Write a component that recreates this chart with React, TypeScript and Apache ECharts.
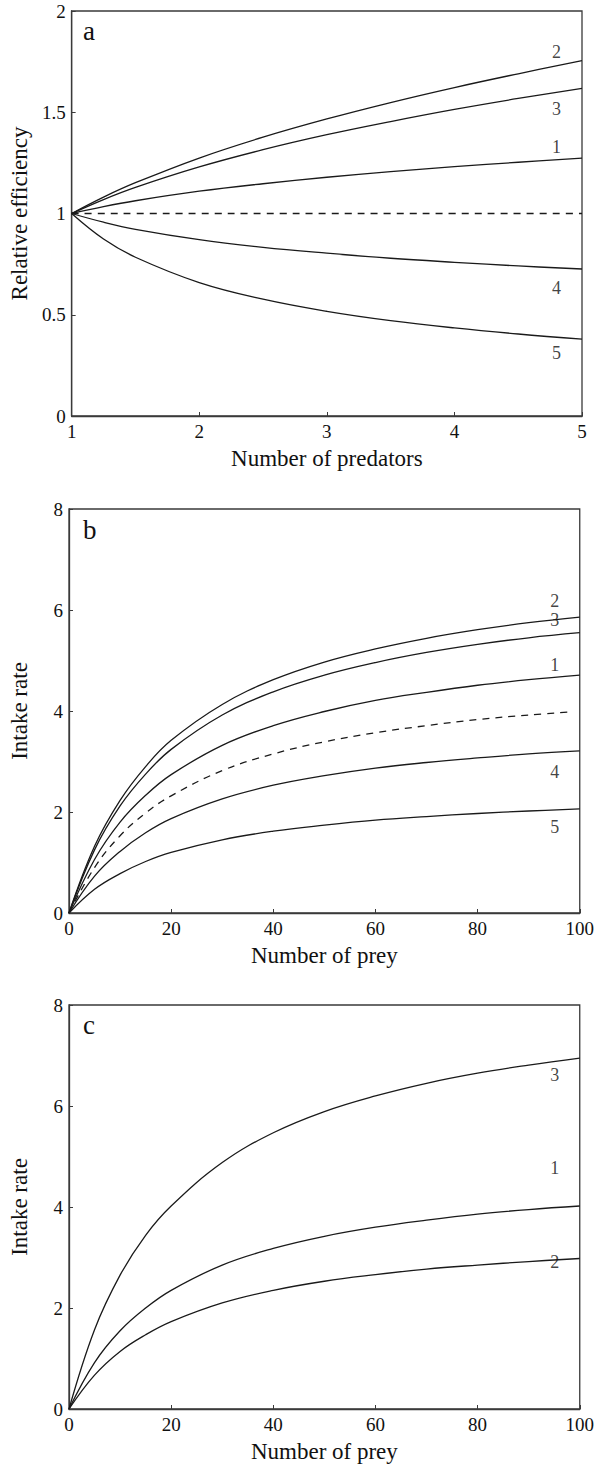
import React, { useEffect, useRef } from "react";
import * as echarts from "echarts";

// Panel a: relative efficiency vs number of predators
const predators = [1, 1.25, 1.5, 2, 2.5, 3, 3.5, 4, 4.5, 5];
const effCurve2 = [1, 1.081, 1.152, 1.274, 1.377, 1.467, 1.548, 1.622, 1.69, 1.755];
const effCurve3 = [1, 1.069, 1.129, 1.23, 1.315, 1.389, 1.454, 1.514, 1.568, 1.618];
const effCurve1 = [1, 1.034, 1.063, 1.11, 1.147, 1.179, 1.207, 1.231, 1.253, 1.273];
const effBaseline = [1, 1, 1, 1, 1, 1, 1, 1, 1, 1];
const effCurve4 = [1, 0.957, 0.922, 0.871, 0.833, 0.804, 0.779, 0.759, 0.741, 0.726];
const effCurve5 = [1, 0.874, 0.784, 0.659, 0.577, 0.517, 0.471, 0.435, 0.405, 0.38];

// Panel b: intake rate vs number of prey
const prey = [0, 5, 10, 15, 20, 30, 40, 50, 60, 70, 80, 90, 100];
const preyDashed = [0, 5, 10, 15, 20, 30, 40, 50, 60, 70, 80, 90, 98];
const intakeB2 = [0, 1.32, 2.23, 2.9, 3.42, 4.13, 4.62, 4.97, 5.23, 5.44, 5.61, 5.75, 5.86];
const intakeB3 = [0, 1.25, 2.12, 2.75, 3.24, 3.92, 4.38, 4.71, 4.96, 5.16, 5.32, 5.45, 5.55];
const intakeB1 = [0, 1.06, 1.8, 2.33, 2.74, 3.32, 3.71, 3.99, 4.21, 4.37, 4.51, 4.62, 4.71];
const intakeBDashed = [0, 0.9, 1.53, 1.98, 2.32, 2.82, 3.15, 3.39, 3.57, 3.71, 3.83, 3.92, 3.98];
const intakeB4 = [0, 0.73, 1.22, 1.59, 1.87, 2.26, 2.53, 2.72, 2.87, 2.98, 3.07, 3.15, 3.21];
const intakeB5 = [0, 0.47, 0.78, 1.02, 1.2, 1.45, 1.62, 1.74, 1.84, 1.91, 1.97, 2.02, 2.06];

// Panel c: intake rate vs number of prey
const intakeC3 = [0, 1.57, 2.65, 3.44, 4.02, 4.88, 5.47, 5.89, 6.2, 6.45, 6.65, 6.81, 6.95];
const intakeC1 = [0, 0.92, 1.55, 2.0, 2.35, 2.85, 3.18, 3.42, 3.6, 3.74, 3.86, 3.95, 4.02];
const intakeC2 = [0, 0.67, 1.14, 1.47, 1.73, 2.1, 2.35, 2.53, 2.66, 2.77, 2.85, 2.92, 2.98];

// Curve number labels
const labelsA = ["2", "3", "1", "4", "5"];
const labelsB = ["2", "3", "1", "4", "5"];
const labelsC = ["3", "1", "2"];

// Label anchor positions in data units (annotation placement)
const labelPosA = [[4.8, 1.8], [4.8, 1.516], [4.8, 1.328], [4.8, 0.632], [4.8, 0.311]];
const labelPosB = [[95.1, 6.18], [95.1, 5.8], [95.1, 4.91], [95.1, 2.79], [95.1, 1.7]];
const labelPosC = [[95.1, 6.61], [95.1, 4.77], [95.1, 2.91]];

const FONT = "'Liberation Serif', 'Times New Roman', serif";
const LINE = "#1a1a1a";
const AXIS = "#3a3a3a";

const zip = (xs: number[], ys: number[]) => xs.map((x, i) => [x, ys[i]]);

export default function App() {
  const ref = useRef<HTMLDivElement>(null);
  useEffect(() => {
    document.body.style.margin = "0";
    if (!ref.current) return;
    const chart = echarts.init(ref.current, null, { renderer: "svg" });

    const grids = [
      { left: 69, top: 11, width: 513, height: 405 },
      { left: 69, top: 509, width: 513, height: 404 },
      { left: 69, top: 1005, width: 513, height: 404 },
    ].map((g) => ({ ...g, show: true, borderColor: AXIS, borderWidth: 1.3, backgroundColor: "transparent" }));

    const axisCommon = {
      axisLine: { show: true, lineStyle: { color: AXIS, width: 1.3 } },
      axisTick: { show: true, inside: true, length: 4, lineStyle: { color: AXIS, width: 1 } },
      splitLine: { show: false },
      axisLabel: { color: "#111", fontFamily: FONT, fontSize: 19, margin: 6 },
      nameTextStyle: { color: "#111", fontFamily: FONT, fontSize: 23 },
      nameLocation: "middle" as const,
    };

    const xAxes = [
      { ...axisCommon, gridIndex: 0, type: "value", min: 1, max: 5, interval: 1, name: "Number of predators", nameGap: 31 },
      { ...axisCommon, gridIndex: 1, type: "value", min: 0, max: 100, interval: 20, name: "Number of prey", nameGap: 31 },
      { ...axisCommon, gridIndex: 2, type: "value", min: 0, max: 100, interval: 20, name: "Number of prey", nameGap: 31 },
    ];
    const yAxes = [
      { ...axisCommon, gridIndex: 0, type: "value", min: 0, max: 2, interval: 0.5, name: "Relative efficiency", nameGap: 38 },
      { ...axisCommon, gridIndex: 1, type: "value", min: 0, max: 8, interval: 2, name: "Intake rate", nameGap: 38 },
      { ...axisCommon, gridIndex: 2, type: "value", min: 0, max: 8, interval: 2, name: "Intake rate", nameGap: 38 },
    ];

    const line = (idx: number, xs: number[], ys: number[], dashed = false) => ({
      type: "line",
      xAxisIndex: idx,
      yAxisIndex: idx,
      data: zip(xs, ys),
      smooth: 0.4,
      showSymbol: false,
      symbol: "none",
      silent: true,
      lineStyle: { color: LINE, width: 1.3, type: dashed ? [7, 6] : "solid" },
    });

    const labelSeries = (idx: number, pos: number[][], texts: string[]) => ({
      type: "scatter",
      xAxisIndex: idx,
      yAxisIndex: idx,
      symbolSize: 0,
      silent: true,
      itemStyle: { color: "#111" },
      data: pos.map((p, i) => ({ value: p, name: texts[i] })),
      label: {
        show: true,
        position: "inside",
        formatter: (p: any) => p.name,
        color: "#111",
        textBorderWidth: 0,
        textBorderColor: "transparent",
        fontFamily: FONT,
        fontSize: 18,
      },
    });

    const letterFont = `27px 'Liberation Serif', 'Times New Roman', serif`;

    const option = {
      animation: false,
      backgroundColor: "#fff",
      grid: grids,
      xAxis: xAxes,
      yAxis: yAxes,
      series: [
        line(0, predators, effCurve2),
        line(0, predators, effCurve3),
        line(0, predators, effCurve1),
        line(0, predators, effBaseline, true),
        line(0, predators, effCurve4),
        line(0, predators, effCurve5),
        labelSeries(0, labelPosA, labelsA),
        line(1, prey, intakeB2),
        line(1, prey, intakeB3),
        line(1, prey, intakeB1),
        line(1, preyDashed, intakeBDashed, true),
        line(1, prey, intakeB4),
        line(1, prey, intakeB5),
        labelSeries(1, labelPosB, labelsB),
        line(2, prey, intakeC3),
        line(2, prey, intakeC1),
        line(2, prey, intakeC2),
        labelSeries(2, labelPosC, labelsC),
      ],
      graphic: [
        { type: "text", left: 83, top: 17, style: { text: "a", font: letterFont, fill: "#111" } },
        { type: "text", left: 83, top: 516, style: { text: "b", font: letterFont, fill: "#111" } },
        { type: "text", left: 83, top: 1011, style: { text: "c", font: letterFont, fill: "#111" } },
      ],
    };
    chart.setOption(option as any);
    return () => chart.dispose();
  }, []);
  return <div ref={ref} style={{ width: 597, height: 1465 }} />;
}
